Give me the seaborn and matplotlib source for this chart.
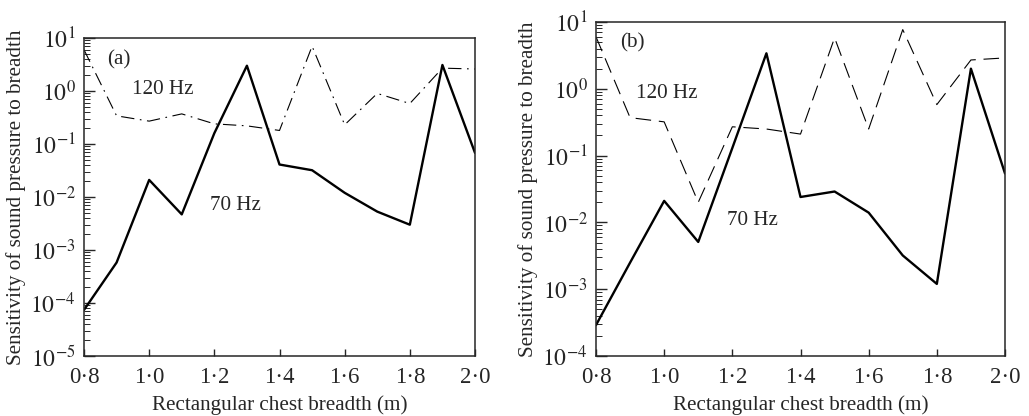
import numpy as np
import pandas as pd
import matplotlib
matplotlib.use("Agg")
import matplotlib.pyplot as plt
import seaborn as sns
from matplotlib.ticker import FixedLocator, LogLocator, FixedFormatter, NullFormatter

# ---- data ----
breadth = [0.8, 0.9, 1.0, 1.1, 1.2, 1.3, 1.4, 1.5, 1.6, 1.7, 1.8, 1.9, 2.0]
a_70hz = [7.4e-5, 5.8e-4, 0.021, 0.0047, 0.16, 3.0, 0.041, 0.032, 0.012, 0.0053, 0.003, 3.1, 0.068]
a_120hz = [6.0, 0.34, 0.27, 0.37, 0.24, 0.22, 0.18, 7.0, 0.23, 0.9, 0.58, 2.7, 2.6]
b_70hz = [2.9e-4, 0.0025, 0.021, 0.0051, 0.13, 3.4, 0.024, 0.029, 0.014, 0.0032, 0.0012, 2.0, 0.054]
b_120hz = [6.0, 0.37, 0.32, 0.020, 0.27, 0.25, 0.21, 5.8, 0.25, 7.7, 0.58, 2.7, 2.9]
xtick_vals = [0.8, 1.0, 1.2, 1.4, 1.6, 1.8, 2.0]
xtick_labels = ["0·8", "1·0", "1·2", "1·4", "1·6", "1·8", "2·0"]
panel_labels = ["(a)", "(b)"]
xlabel = "Rectangular chest breadth (m)"
ylabel = "Sensitivity of sound pressure to breadth"

sns.set_style("ticks")
plt.rcParams["font.family"] = ["Liberation Serif", "DejaVu Serif"]
plt.rcParams["mathtext.fontset"] = "stix"
plt.rcParams["axes.linewidth"] = 1.1

fig = plt.figure(figsize=(10.29, 4.16), dpi=100)
axA = fig.add_axes([84/1029, 60/416, 391/1029, 318/416])
axB = fig.add_axes([596/1029, 60/416, 409/1029, 334/416])

FS = 15.2

def draw(ax, v70, v120, dash120, ylim, label, pos_lab, pos120, pos70):
    sns.lineplot(x=breadth, y=v120, ax=ax, color="black", lw=0.8)
    ax.lines[-1].set_dashes(dash120)
    sns.lineplot(x=breadth, y=v70, ax=ax, color="black", lw=1.7)
    ax.set_yscale("log")
    ax.set_xlim(0.8, 2.0)
    ax.set_ylim(*ylim)
    ax.xaxis.set_major_locator(FixedLocator(xtick_vals))
    ax.xaxis.set_major_formatter(FixedFormatter(xtick_labels))
    lo, hi = int(np.log10(ylim[0])), int(np.log10(ylim[1]))
    decs = list(range(lo, hi + 1))
    ax.yaxis.set_major_locator(FixedLocator([10.0**d for d in decs]))
    ax.yaxis.set_major_formatter(FixedFormatter([r"$10^{%d}$" % d for d in decs]))
    ax.yaxis.set_minor_locator(LogLocator(base=10, subs=np.arange(2, 10), numticks=20))
    ax.yaxis.set_minor_formatter(NullFormatter())
    ax.tick_params(axis="both", which="both", direction="in", top=False, right=False)
    ax.tick_params(axis="x", which="major", length=5, width=1, labelsize=16.5, pad=8)
    ax.tick_params(axis="y", which="major", length=8, width=1, labelsize=17, pad=6)
    ax.tick_params(axis="y", which="minor", length=4, width=0.7)
    ax.set_xlabel(xlabel, fontsize=FS, labelpad=5)
    ax.set_ylabel(ylabel, fontsize=FS, labelpad=3)
    ax.text(pos_lab[0], pos_lab[1], label, fontsize=FS, ha="left", va="center")
    ax.text(pos120[0], pos120[1], "120 Hz", fontsize=FS, ha="center", va="center")
    ax.text(pos70[0], pos70[1], "70 Hz", fontsize=FS, ha="center", va="center")
    for s in ax.spines.values():
        s.set_visible(True)
        s.set_linewidth(1.1)

draw(axA, a_70hz, a_120hz, [12, 5, 1.5, 5], (1e-5, 10), panel_labels[0],
     (0.87, 3.9), (1.042, 1.06), (1.266, 0.007))
draw(axB, b_70hz, b_120hz, [14, 7], (1e-4, 10), panel_labels[1],
     (0.87, 4.9), (1.008, 0.85), (1.258, 0.0108))

fig.savefig("out.png", dpi=100)
